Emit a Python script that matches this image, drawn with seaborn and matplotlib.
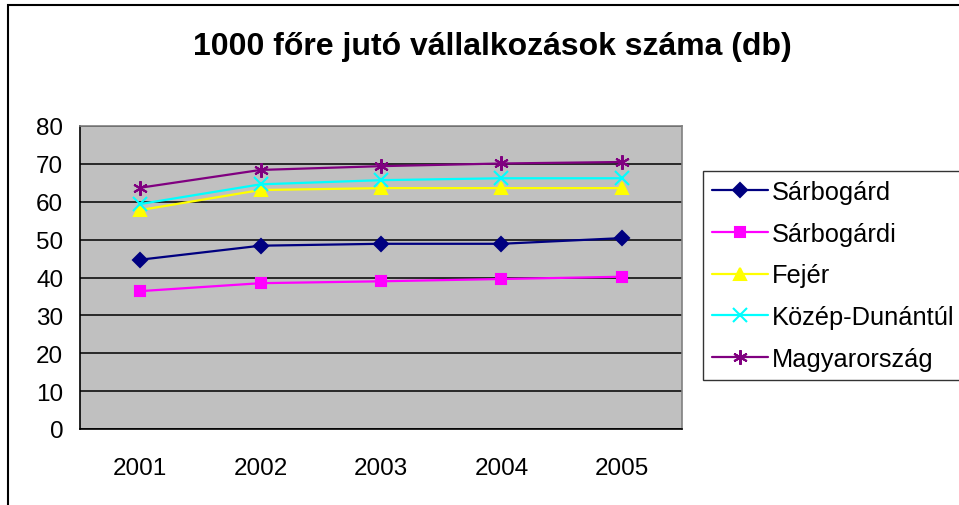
import matplotlib
matplotlib.use("Agg")
import matplotlib.pyplot as plt
import seaborn as sns
import pandas as pd
from matplotlib.patches import Rectangle

years = ["2001", "2002", "2003", "2004", "2005"]
series_names = ["Sárbogárd", "Sárbogárdi", "Fejér", "Közép-Dunántúl", "Magyarország"]
sarbogard = [44.7, 48.4, 48.9, 48.9, 50.4]
sarbogardi = [36.4, 38.5, 39.0, 39.6, 40.2]
fejer = [57.8, 63.1, 63.6, 63.6, 63.6]
kozep_dunantul = [59.4, 64.6, 65.7, 66.2, 66.2]
magyarorszag = [63.7, 68.4, 69.4, 70.1, 70.5]
title = "1000 főre jutó vállalkozások száma (db)"

values = [sarbogard, sarbogardi, fejer, kozep_dunantul, magyarorszag]
colors = ["#000080", "#FF00FF", "#FFFF00", "#00FFFF", "#800080"]
markers = ["D", "s", "^", "x", (6, 2, 0)]
msizes = [7.5, 7, 8.5, 10, 10.5]

sns.set_style("white")
plt.rcParams["font.family"] = ["Liberation Sans", "DejaVu Sans"]
plt.rcParams["text.color"] = "black"
plt.rcParams["xtick.color"] = "black"
plt.rcParams["ytick.color"] = "black"
plt.rcParams["axes.labelcolor"] = "black"

fig = plt.figure(figsize=(9.59, 5.06), dpi=100)
ax = fig.add_axes([80 / 959, 1 - 430 / 506, (682 - 80) / 959, (430 - 127) / 506])
ax.set_facecolor("#C0C0C0")

for name, vals, c, m, ms in zip(series_names, values, colors, markers, msizes):
    d = pd.DataFrame({"pos": list(range(len(vals))), "value": vals})
    sns.lineplot(data=d, x="pos", y="value", color=c, marker=m,
                 markersize=ms, markeredgecolor=c, markerfacecolor=c,
                 markeredgewidth=1.5, linewidth=1.6, label=name, ax=ax)

ax.set_xlim(-0.5, 4.5)
ax.set_ylim(0, 80)
ax.set_yticks(range(0, 81, 10))
ax.yaxis.grid(True, color="black", linewidth=1.1)
ax.set_axisbelow(True)
ax.set_xticks([-0.5, 0.5, 1.5, 2.5, 3.5, 4.5])
ax.set_xticklabels([])
ax.set_xticks(range(5), minor=True)
ax.set_xticklabels(years, minor=True)
ax.tick_params(axis="x", which="major", direction="out", length=7, width=1, color="black")
ax.tick_params(axis="x", which="minor", length=0, pad=20, labelsize=17.5, labelcolor="black")
ax.tick_params(axis="y", direction="out", length=6, width=1, color="black",
               labelsize=17.5, pad=6, labelcolor="black")
ax.set_xlabel("")
ax.set_ylabel("")
for s in ["left", "bottom"]:
    ax.spines[s].set_color("black")
    ax.spines[s].set_linewidth(1.2)
for s in ["top", "right"]:
    ax.spines[s].set_color("#808080")
    ax.spines[s].set_linewidth(1.2)

handles, labels = ax.get_legend_handles_labels()
if ax.get_legend() is not None:
    ax.get_legend().remove()
leg = fig.legend(handles, labels, loc="upper left",
                 bbox_to_anchor=(703 / 959, 1 - 172 / 506),
                 frameon=True, fancybox=False, fontsize=18.3,
                 handlelength=2.2, handletextpad=0.15, labelspacing=0.7,
                 borderpad=0.35, borderaxespad=0)
leg.get_frame().set_edgecolor("black")
leg.get_frame().set_linewidth(1.0)
for t in leg.get_texts():
    t.set_color("black")

fig.text(492 / 959, 1 - 47 / 506, title, ha="center", va="center",
         fontsize=23, fontweight="bold", color="black")

fig.patches.append(Rectangle((8 / 959, -0.1), 1.2, 1 - 6 / 506 + 0.1,
                             transform=fig.transFigure, fill=False,
                             edgecolor="black", linewidth=1.5))

fig.savefig("out.png", dpi=100, facecolor="white")
